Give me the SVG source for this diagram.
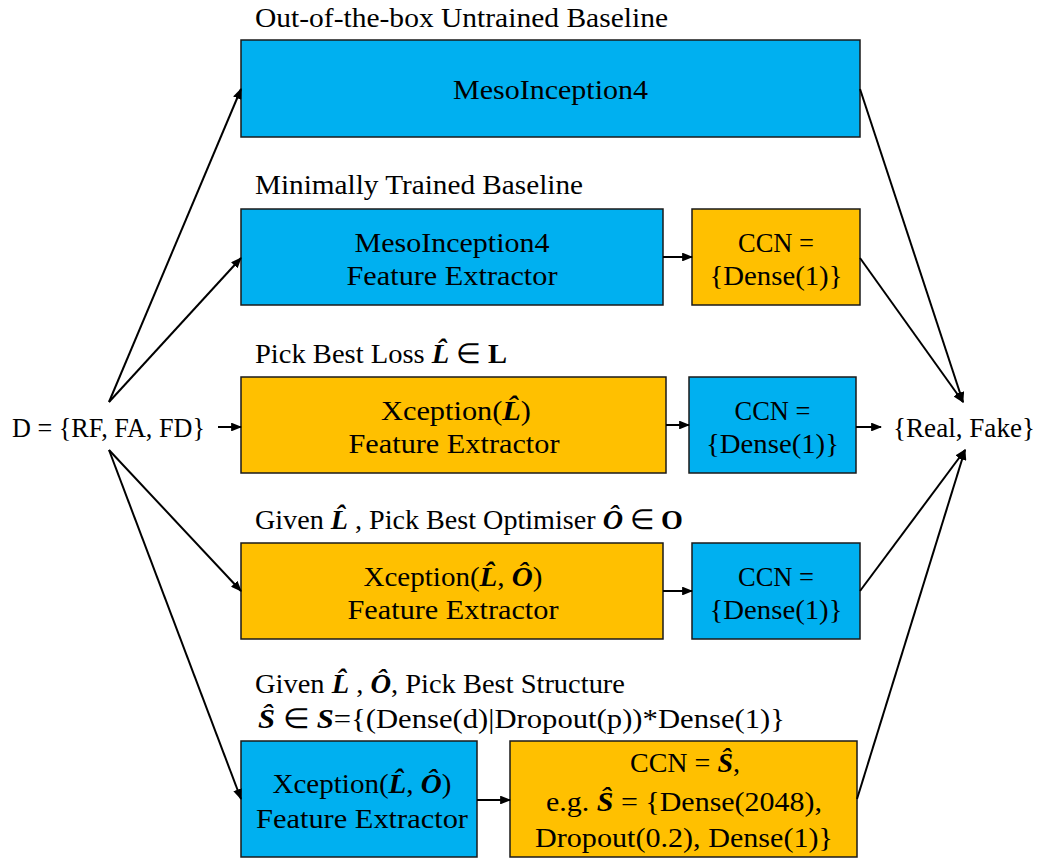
<svg xmlns="http://www.w3.org/2000/svg" width="1043" height="859" viewBox="0 0 1043 859">
  <style>
    text { font-family: "Liberation Serif", "Times New Roman", serif; font-size: 28px; fill: #000; }
    .c { text-anchor: middle; }
    .m { font-style: italic; font-weight: bold; }
    .b { font-weight: bold; }
    .blue { fill: #00B0F0; stroke: #1a1a1a; stroke-width: 1.5; }
    .orange { fill: #FFC000; stroke: #1a1a1a; stroke-width: 1.5; }
    .edge { stroke: #000; stroke-width: 2; fill: none; marker-end: url(#ah); }
  </style>
  <defs>
    <marker id="ah" viewBox="0 0 10 8" refX="9" refY="4" markerWidth="5.5" markerHeight="4.4" orient="auto" markerUnits="strokeWidth">
      <path d="M0,0 L10,4 L0,8 z" fill="#000"/>
    </marker>
  </defs>

  <!-- stage headings -->
  <g id="headings">
    <text x="255" y="27" textLength="413" lengthAdjust="spacingAndGlyphs">Out-of-the-box Untrained Baseline</text>
    <text x="255" y="194" textLength="328" lengthAdjust="spacingAndGlyphs">Minimally Trained Baseline</text>
    <text x="255" y="363" textLength="252" lengthAdjust="spacingAndGlyphs">Pick Best Loss <tspan class="m">L̂</tspan>  ∈ <tspan class="b">L</tspan></text>
    <text x="255" y="529" textLength="428" lengthAdjust="spacingAndGlyphs">Given <tspan class="m">L̂</tspan> , Pick Best Optimiser <tspan class="m">Ô</tspan> ∈ <tspan class="b">O</tspan></text>
    <text x="255" y="693" textLength="370" lengthAdjust="spacingAndGlyphs">Given <tspan class="m">L̂</tspan> , <tspan class="m">Ô</tspan>, Pick Best Structure</text>
    <text x="258" y="728" textLength="527" lengthAdjust="spacingAndGlyphs"><tspan class="m">Ŝ</tspan> ∈ <tspan class="m">S</tspan>={(Dense(d)|Dropout(p))*Dense(1)}</text>
  </g>

  <!-- input and output sets -->
  <g id="input">
    <text x="12" y="437" textLength="193" lengthAdjust="spacingAndGlyphs">D = {RF, FA, FD}</text>
  </g>
  <g id="output">
    <text x="893" y="437" textLength="142" lengthAdjust="spacingAndGlyphs">{Real, Fake}</text>
  </g>

  <!-- row 1 -->
  <g id="meso-untrained">
    <rect class="blue" x="241" y="40" width="619" height="97"/>
    <text class="c" x="550.5" y="99" textLength="195" lengthAdjust="spacingAndGlyphs">MesoInception4</text>
  </g>

  <!-- row 2 -->
  <g id="meso-extractor">
    <rect class="blue" x="241" y="209" width="422" height="96"/>
    <text class="c" x="452" y="252" textLength="195" lengthAdjust="spacingAndGlyphs">MesoInception4</text>
    <text class="c" x="452" y="285" textLength="211" lengthAdjust="spacingAndGlyphs">Feature Extractor</text>
  </g>
  <g id="ccn-meso">
    <rect class="orange" x="692" y="209" width="168" height="96"/>
    <text class="c" x="776" y="252" textLength="76" lengthAdjust="spacingAndGlyphs">CCN =</text>
    <text class="c" x="776" y="285" textLength="133" lengthAdjust="spacingAndGlyphs">{Dense(1)}</text>
  </g>

  <!-- row 3 -->
  <g id="xception-loss">
    <rect class="orange" x="241" y="377" width="425" height="96"/>
    <text class="c" x="456" y="420" textLength="150" lengthAdjust="spacingAndGlyphs">Xception(<tspan class="m">L̂</tspan>)</text>
    <text class="c" x="454" y="453" textLength="211" lengthAdjust="spacingAndGlyphs">Feature Extractor</text>
  </g>
  <g id="ccn-loss">
    <rect class="blue" x="689" y="377" width="167" height="96"/>
    <text class="c" x="772.5" y="420" textLength="76" lengthAdjust="spacingAndGlyphs">CCN =</text>
    <text class="c" x="772.5" y="453" textLength="133" lengthAdjust="spacingAndGlyphs">{Dense(1)}</text>
  </g>

  <!-- row 4 -->
  <g id="xception-optimiser">
    <rect class="orange" x="241" y="543" width="422" height="96"/>
    <text class="c" x="453" y="586" textLength="179" lengthAdjust="spacingAndGlyphs">Xception(<tspan class="m">L̂</tspan>, <tspan class="m">Ô</tspan>)</text>
    <text class="c" x="453" y="619" textLength="211" lengthAdjust="spacingAndGlyphs">Feature Extractor</text>
  </g>
  <g id="ccn-optimiser">
    <rect class="blue" x="692" y="543" width="168" height="96"/>
    <text class="c" x="776" y="586" textLength="76" lengthAdjust="spacingAndGlyphs">CCN =</text>
    <text class="c" x="776" y="619" textLength="133" lengthAdjust="spacingAndGlyphs">{Dense(1)}</text>
  </g>

  <!-- row 5 -->
  <g id="xception-structure">
    <rect class="blue" x="241" y="741" width="236" height="116"/>
    <text class="c" x="362" y="793" textLength="179" lengthAdjust="spacingAndGlyphs">Xception(<tspan class="m">L̂</tspan>, <tspan class="m">Ô</tspan>)</text>
    <text class="c" x="362" y="828" textLength="212" lengthAdjust="spacingAndGlyphs">Feature Extractor</text>
  </g>
  <g id="ccn-structure">
    <rect class="orange" x="510" y="741" width="347" height="116"/>
    <text class="c" x="685" y="772">CCN = <tspan class="m">Ŝ</tspan>,</text>
    <text class="c" x="684" y="811" textLength="276" lengthAdjust="spacingAndGlyphs">e.g. <tspan class="m">Ŝ</tspan> = {Dense(2048),</text>
    <text class="c" x="684" y="847" textLength="298" lengthAdjust="spacingAndGlyphs">Dropout(0.2), Dense(1)}</text>
  </g>

  <!-- connectors -->
  <g id="connectors">
    <line class="edge" x1="109" y1="402" x2="241" y2="89"/>
    <line class="edge" x1="109" y1="402" x2="241" y2="258"/>
    <line class="edge" x1="218" y1="427" x2="241" y2="427"/>
    <line class="edge" x1="109" y1="450" x2="241" y2="591"/>
    <line class="edge" x1="109" y1="450" x2="241" y2="799"/>

    <line class="edge" x1="663" y1="257" x2="692" y2="257"/>
    <line class="edge" x1="666" y1="425" x2="689" y2="425"/>
    <line class="edge" x1="663" y1="591" x2="692" y2="591"/>
    <line class="edge" x1="477" y1="800" x2="510" y2="800"/>

    <line class="edge" x1="860" y1="89" x2="963" y2="402"/>
    <line class="edge" x1="860" y1="258" x2="963" y2="402"/>
    <line class="edge" x1="856" y1="427" x2="881" y2="427"/>
    <line class="edge" x1="860" y1="591" x2="965" y2="450"/>
    <line class="edge" x1="857" y1="799" x2="965" y2="450"/>
  </g>
</svg>
